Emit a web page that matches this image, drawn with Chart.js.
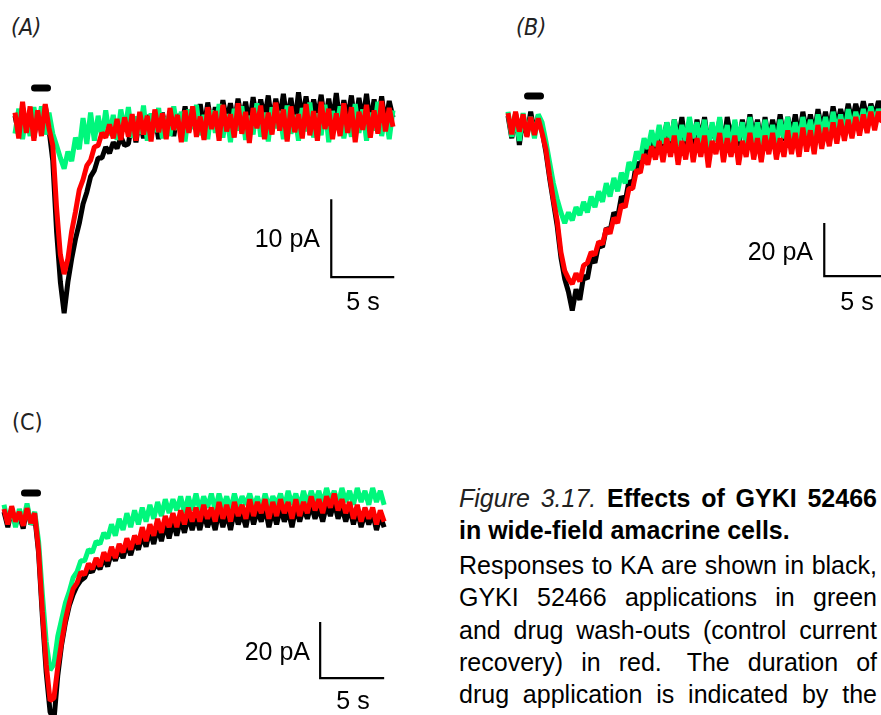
<!DOCTYPE html>
<html>
<head>
<meta charset="utf-8">
<script src="https://cdn.jsdelivr.net/npm/chart.js@4.4.1/dist/chart.umd.min.js"></script>
<style>
  html, body { margin: 0; padding: 0; background: #fff; }
  body { width: 881px; height: 715px; position: relative; overflow: hidden;
         font-family: "Liberation Sans", Arial, sans-serif; color: #000; }
  canvas { position: absolute; }
  .tag { position: absolute; font-size: 23px; line-height: 26px; color: #222;
         font-family: "Liberation Sans Narrow", "DejaVu Sans Condensed", "Liberation Sans", sans-serif; }
  .tag.it { font-style: italic; }
  .bar-lbl { position: absolute; font-size: 25px; line-height: 25px; white-space: nowrap; }
  .cap { position: absolute; left: 459px; width: 418px; font-size: 25px; line-height: 32px;
         height: 32px; white-space: nowrap; }
  .cap.just { display: flex; justify-content: space-between; }
  .cap .b { font-weight: bold; }
  .cap .i { font-style: italic; color: #222; }
</style>
</head>
<body>

<div class="tag it" style="left:11px;top:14px;">(A)</div>
<div class="tag it" style="left:516px;top:14px;">(B)</div>
<div class="tag" style="left:12px;top:409px;">(C)</div>

<canvas id="chartA" width="420" height="270" style="left:0;top:60px;width:420px;height:270px;"></canvas>
<canvas id="chartB" width="391" height="270" style="left:490px;top:60px;width:391px;height:270px;"></canvas>
<canvas id="chartC" width="400" height="245" style="left:0;top:470px;width:400px;height:245px;"></canvas>

<div class="bar-lbl" style="left:220px;width:100px;text-align:right;top:226px;">10 pA</div>
<div class="bar-lbl" style="left:323px;width:80px;text-align:center;top:289px;">5 s</div>
<div class="bar-lbl" style="left:713px;width:100px;text-align:right;top:239px;">20 pA</div>
<div class="bar-lbl" style="left:817px;width:80px;text-align:center;top:289px;">5 s</div>
<div class="bar-lbl" style="left:210px;width:100px;text-align:right;top:639px;">20 pA</div>
<div class="bar-lbl" style="left:313px;width:80px;text-align:center;top:688px;">5 s</div>

<div class="cap just" style="top:482px;">
  <span class="i">Figure</span><span class="i">3.17.</span><span class="b">Effects</span><span class="b">of</span><span class="b">GYKI</span><span class="b">52466</span>
</div>
<div class="cap" style="top:514px;"><span class="b">in wide-field amacrine cells.</span></div>
<div class="cap just" style="top:549px;">
  <span>Responses</span><span>to</span><span>KA</span><span>are</span><span>shown</span><span>in</span><span>black,</span>
</div>
<div class="cap just" style="top:581px;">
  <span>GYKI</span><span>52466</span><span>applications</span><span>in</span><span>green</span>
</div>
<div class="cap just" style="top:614px;">
  <span>and</span><span>drug</span><span>wash-outs</span><span>(control</span><span>current</span>
</div>
<div class="cap just" style="top:646px;">
  <span>recovery)</span><span>in</span><span>red.</span><span>&nbsp;The</span><span>duration</span><span>of</span>
</div>
<div class="cap just" style="top:678px;">
  <span>drug</span><span>application</span><span>is</span><span>indicated</span><span>by</span><span>the</span>
</div>

<script>
const DT = 0.3;

// (A) currents in pA, one sample every DT seconds from t = 0
const aControl = [0.8,-1.6,1.9,-1.2,1.4,-2.0,1.1,-0.9,2.1,-1.0,
  -5,-14,-20.5,-24.5,-20.5,-17.5,-15,-13,-10.5,-9,
  -7,-6.2,-4.6,-4.6,-3.2,-4.0,-2.6,-3.4,-1.9,-3.0,
  -2.8,0.2,-2.6,0.5,-2.1,0.9,-1.9,0.6,-2.2,1.2,
  -1.5,1.4,-1.8,1.0,-0.8,2.0,-1.2,1.7,-0.6,2.3,
  -0.9,2.5,-0.4,1.9,-0.7,2.8,0.1,2.4,-0.5,3.0,
  0.2,2.6,-0.3,3.2,0.0,2.9,0.4,3.4,-0.2,3.0,
  0.3,3.6,0.1,3.1,-0.4,3.8,0.2,3.3,-0.1,2.9,
  0.5,3.5,-0.3,3.0,0.1,3.7,-0.2,2.8,0.4,3.4,
  -0.5,3.1,0.2,3.6,-0.3,2.9,0.0,3.3,-0.4,2.7,0.6];
const aGYKI = [-1.5,1.7,-2.2,1.0,-1.8,1.9,-0.7,2.0,-1.6,1.2,
  -1.5,-3.0,-4.6,-6.0,-3.8,-5.0,-2.0,-3.5,0.5,-2.8,
  1.2,-2.4,0.8,-2.0,1.5,-1.7,0.9,-2.3,1.6,-1.2,
  1.9,-2.0,0.7,-1.5,2.1,-2.4,1.1,-1.3,1.8,-2.1,
  0.6,-1.8,2.0,-1.0,1.3,-2.5,1.6,-0.9,2.2,-1.7,
  0.9,-2.2,1.5,-1.4,2.3,-2.0,1.0,-2.6,1.7,-1.1,
  2.0,-2.3,0.8,-1.6,2.4,-1.9,1.2,-2.5,1.9,-0.8,
  1.4,-2.2,2.1,-1.5,0.9,-2.4,1.8,-1.2,2.5,-2.0,
  1.1,-1.7,2.2,-2.6,1.4,-1.0,2.0,-2.1,0.7,-1.9,
  2.3,-1.4,1.6,-2.4,1.2,-1.1,2.6,-1.8,1.0,-2.2,1.5];
const aWash = [1.2,-2.1,2.6,-1.4,2.0,-2.4,1.5,-1.8,2.3,-0.8,
  -3.0,-11,-17,-19.5,-17.5,-14,-11.5,-8.7,-7.4,-5.6,
  -4.9,-3.2,-3.0,-1.4,-2.0,-0.3,-2.1,0.4,-2.3,0.6,
  -1.9,1.0,-2.4,1.3,-1.6,0.8,-2.5,1.6,-1.3,1.1,
  -2.2,1.8,-1.0,0.9,-2.6,1.5,-1.4,2.0,-1.9,0.7,
  -2.3,1.9,-0.9,1.4,-2.4,2.2,-1.2,1.0,-2.0,2.4,
  -1.5,1.3,-2.7,1.8,-0.8,2.1,-2.2,1.2,-1.6,2.5,
  -1.1,1.6,-2.5,2.0,-1.3,1.0,-2.1,2.3,-1.7,1.4,
  -2.4,2.6,-0.9,1.7,-2.2,1.1,-1.8,2.4,-1.4,1.9,
  -2.6,1.3,-1.0,2.2,-2.0,1.5,-1.5,2.7,-1.2,1.8,-0.6];

// (B) currents in pA
const bControl = [3.5,-5.0,4.5,-7.5,3.0,-4.0,5.0,-3.0,3.5,-2.0,
  -10,-20,-29,-38,-50,-58,-63,-70,-62,-66,
  -57,-58,-50,-52,-45,-46,-39,-40,-33,-35,
  -27,-29,-21,-23,-14,-17,-8,-12,-4,-10,
  -2,-8,1,-7,2,-6,3,-8,1,-7,
  2,-6,3,-8,0,-6,2,-7,3,-5,
  1,-8,2,-6,4,-5,2,-7,3,-6,
  2,-5,4,-6,3,-4,4,-5,5,-3,
  4,-4,6,-2,5,-3,7,-1,6,0,
  8,1,8,2,9,2,8,3,9,5];
const bGYKI = [5.0,-4.5,3.5,-6.0,4.5,-3.5,3.0,-5.0,4.0,1.0,
  -6,-14,-22,-28,-33,-37,-33,-36,-31,-34,
  -29,-33,-27,-31,-25,-29,-22,-27,-20,-25,
  -18,-22,-14,-17,-10,-13,-5,-9,-2,-8,
  0,-7,1,-6,2,-8,0,-6,3,-5,
  1,-7,2,-9,1,-6,3,-8,0,-10,
  2,-6,1,-8,3,-7,1,-9,2,-6,
  0,-8,2,-5,3,-7,1,-6,3,-5,
  2,-6,4,-4,3,-5,5,-3,4,-4,
  6,-2,5,-1,6,0,7,1,6,2];
const bWash = [4.5,-3.5,5.0,-2.5,4.0,-4.5,3.0,-3.8,2.5,-3.0,
  -9,-19,-28,-36,-48,-55,-58,-60,-56,-59,
  -53,-52,-48,-49,-44,-45,-39,-41,-35,-37,
  -30,-31,-24,-24,-17,-18,-11,-15,-8,-13,
  -6,-14,-5,-12,-4,-15,-6,-13,-3,-14,
  -5,-12,-4,-16,-6,-11,-3,-14,-5,-12,
  -4,-15,-6,-12,-3,-13,-5,-14,-4,-11,
  -3,-13,-5,-12,-2,-11,-3,-12,-1,-10,
  -2,-11,0,-9,-1,-8,1,-7,2,-6,
  2,-5,3,-4,4,-3,5,-2,5,1];

// (C) currents in pA
const cControl = [1.5,-4.0,2.5,-3.0,0.5,-4.5,3.5,-3.0,0.0,-13,
  -36,-56,-70,-73,-57,-46,-38,-32,-28,-25,
  -23,-22,-19,-20,-17,-19,-15,-18,-13,-16,
  -12,-15,-10,-14,-9,-12,-7,-11,-5,-10,
  -4,-9,-3,-8,-2,-7,-1,-6,0,-5,
  0,-5,1,-4,0,-5,2,-4,1,-5,
  2,-3,1,-4,3,-3,2,-2,3,-4,
  2,-3,3,-2,2,-4,3,-2,3,-1,
  4,-1,3,-2,4,0,5,-1,3,-2,
  3,-3,2,-4,1,-3,1,-5,0,-4];
const cGYKI = [4.0,-2.5,3.0,-4.0,2.5,-2.0,4.5,-3.0,1.5,-9,
  -28,-45,-55,-53,-43,-37,-31,-27,-22,-20,
  -16,-16,-12,-13,-9,-10,-6,-8,-3,-7,
  -1,-5,1,-4,2,-3,3,-2,4,-1,
  5,0,6,1,6,2,7,1,7,2,
  8,2,7,3,8,2,8,3,7,2,
  8,3,7,4,8,3,7,2,8,3,
  7,4,8,3,9,4,8,3,9,4,
  9,5,9,4,10,5,9,4,10,5,
  9,4,10,5,9,4,10,5,9,4];
const cWash = [2.5,-3.0,3.5,-2.0,1.5,-3.5,2.8,-2.5,1.0,-12,
  -34,-53,-66,-65,-54,-45,-37,-31,-26,-24,
  -20,-21,-17,-19,-15,-18,-13,-16,-11,-15,
  -10,-13,-8,-12,-7,-10,-4,-9,-3,-7,
  -1,-6,0,-4,1,-4,2,-3,3,-2,
  3,-2,4,-1,3,-2,5,-1,4,-2,
  5,0,4,-1,6,0,5,1,6,-1,
  5,0,6,1,5,-1,6,0,5,1,
  7,2,6,1,7,3,8,2,6,1,
  5,-1,4,-2,3,-1,3,-3,2,-2];

// Drug application markers: [start s, end s, level pA]
const stimA = [1.55, 2.58, 4.36];
const stimB = [1.55, 2.58, 10.9];
const stimC = [1.6, 2.62, 8.2];

// Calibration bars: [corner time s, corner current pA, time span s, current span pA]
const calA = [25.1, -19.9, 5, 10];
const calB = [25.1, -57, 5, 20];
const calC = [24.7, -57.9, 5, 20];

const COLORS = { control: '#000000', gyki: '#00f77c', wash: '#ff0000' };

function samples(values) {
  return values.map((v, i) => ({ x: Math.round(i * DT * 100) / 100, y: v }));
}

function trace(values, color, order) {
  return {
    data: samples(values), borderColor: color, borderWidth: 5,
    pointRadius: 0, tension: 0, borderJoinStyle: 'bevel', order: order
  };
}

function buildPanel(id, xRange, yRange, control, gyki, wash, stim, cal) {
  const [t0, i0, dt, di] = cal;
  const datasets = [
    trace(wash, COLORS.wash, 1),
    trace(gyki, COLORS.gyki, 2),
    trace(control, COLORS.control, 3),
    {
      data: [{ x: stim[0], y: stim[2] }, { x: stim[1], y: stim[2] }],
      borderColor: '#000', borderWidth: 7, borderCapStyle: 'round',
      pointRadius: 0, order: 0
    },
    {
      data: [{ x: t0, y: i0 + di }, { x: t0, y: i0 }, { x: t0 + dt, y: i0 }],
      borderColor: '#000', borderWidth: 2.2, borderJoinStyle: 'miter',
      borderCapStyle: 'butt', pointRadius: 0, order: 0
    }
  ];
  new Chart(document.getElementById(id), {
    type: 'line',
    data: { datasets },
    options: {
      responsive: false, animation: false, devicePixelRatio: 1,
      layout: { padding: 0 },
      plugins: { legend: { display: false }, tooltip: { enabled: false } },
      scales: {
        x: { type: 'linear', min: xRange[0], max: xRange[1], display: false },
        y: { type: 'linear', min: yRange[0], max: yRange[1], display: false }
      }
    }
  });
}

buildPanel('chartA', [-1.19, 32.143], [-26.667, 7.949], aControl, aGYKI, aWash, stimA, calA);
buildPanel('chartB', [-1.429, 29.603], [-77.36, 24.53], bControl, bGYKI, bWash, stimB, calB);
buildPanel('chartC', [-0.3125, 30.9375], [-71.07, 16.43], cControl, cGYKI, cWash, stimC, calC);
</script>
</body>
</html>
